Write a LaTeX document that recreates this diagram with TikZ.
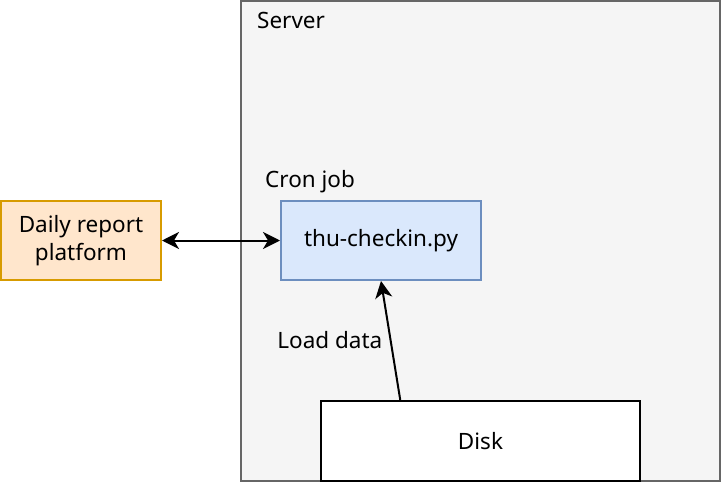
\documentclass[tikz,border=0pt]{standalone}
\usepackage{fontspec}
\setmainfont{Noto Sans}
\usetikzlibrary{positioning, arrows.meta, calc}
\definecolor{serverfill}{HTML}{F5F5F5}
\definecolor{serverline}{HTML}{666666}
\definecolor{jobfill}{HTML}{DAE8FC}
\definecolor{jobline}{HTML}{6C8EBF}
\definecolor{platfill}{HTML}{FFE6CC}
\definecolor{platline}{HTML}{D79B00}

\begin{document}
\begin{tikzpicture}[x=1pt, y=-1pt, font=\fontsize{22.5}{28}\selectfont,
    box/.style={draw, line width=2pt, inner sep=0pt, align=center},
    tag/.style={anchor=west, inner sep=0pt},
    link/.style={line width=2pt, arrows={-Stealth[length=17pt, width=17pt, inset=5pt]}}]
        \useasboundingbox (0,0) rectangle (722,484);

        % Server
        \node[box, draw=serverline, fill=serverfill, minimum width=479pt, minimum height=480pt] (server) at (480.5,241) {};
        \node[tag] (serverlabel) at (257,20) {Server};

        % Cron job
        \node[box, draw=jobline, fill=jobfill, minimum width=200pt, minimum height=79pt] (checkin) at (381,240.5) {thu-checkin.py};
        \node[tag] (cronlabel) at (265,182) {Cron job};

        % Daily report platform
        \node[box, draw=platline, fill=platfill, minimum width=160pt, minimum height=79pt] (platform) at (81,240.5) {Daily report\\platform};

        % Disk
        \node[box, draw=black, fill=white, minimum width=319pt, minimum height=80pt] (disk) at (480.5,441) {Disk};

        % Connexions
        \draw[link, arrows={Stealth[length=17pt, width=17pt, inset=5pt]-Stealth[length=17pt, width=17pt, inset=5pt]}] (platform) -- (checkin);
        \draw[link] ($(disk.north west)!0.25!(disk.north east)$) -- (checkin.south)
            node[midway, left=4pt] (loadlabel) {Load data};
    \end{tikzpicture}
\end{document}
